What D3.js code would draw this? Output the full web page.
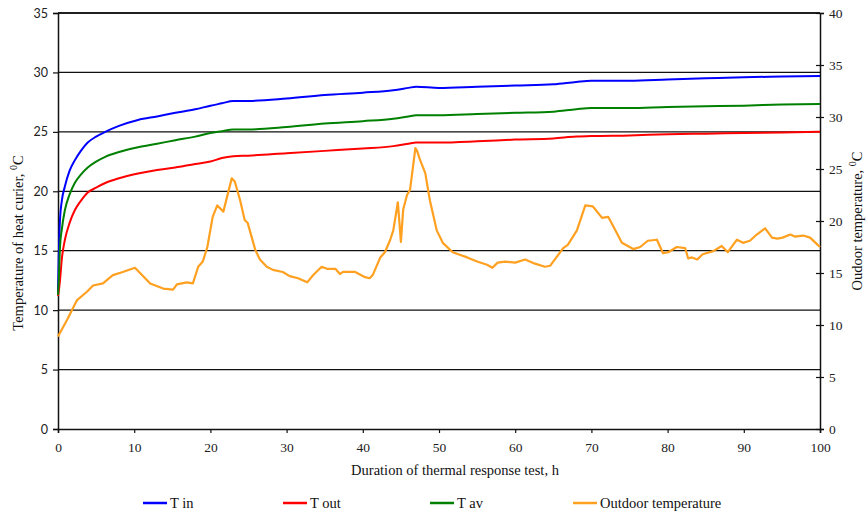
<!DOCTYPE html>
<html><head><meta charset="utf-8">
<script src="https://cdn.jsdelivr.net/npm/d3@7"></script>
<style>body{margin:0;background:#fff}svg{display:block}</style>
</head><body>
<svg id="c" width="866" height="517"></svg>
<script>
// ---- data ----
const tempHours = [0,0.1,0.26,0.5,0.9,1.5,2.2,3,3.9,5,6.2,8,10.5,13,15.4,18,20,21.5,23,25,30,35,40,44,46,47,50,55,60,65,68,70,75,80,85,90,95,100];
const tIn  = [11.5,14.5,17.6,19.2,20.4,21.7,22.6,23.4,24.1,24.6,25.0,25.5,26.0,26.3,26.6,26.9,27.2,27.4,27.6,27.6,27.8,28.1,28.3,28.5,28.7,28.8,28.7,28.8,28.9,29.0,29.2,29.3,29.3,29.4,29.5,29.6,29.65,29.7];
const tAv  = [11.3,12.5,15.3,16.8,18.4,19.7,20.7,21.4,22.0,22.5,22.9,23.3,23.7,24.0,24.3,24.6,24.9,25.05,25.2,25.2,25.4,25.7,25.9,26.1,26.3,26.4,26.4,26.5,26.6,26.7,26.9,27.0,27.0,27.1,27.15,27.2,27.3,27.35];
const tOut = [11.2,11.6,12.5,14.3,15.9,17.3,18.4,19.2,19.9,20.3,20.7,21.1,21.5,21.8,22.0,22.3,22.5,22.8,22.95,23.0,23.2,23.4,23.6,23.8,24.0,24.1,24.1,24.2,24.35,24.45,24.6,24.65,24.7,24.8,24.85,24.9,24.95,25.0];

const outHours = [0,1.2,2.5,3.8,4.6,5.9,7.2,8.5,10.1,12.1,13.8,15.1,15.6,16.9,17.7,18.4,19.0,19.6,20.3,20.9,21.7,22.8,23.2,23.9,24.5,24.9,25.9,26.5,27.4,28.2,29.5,30.4,31.5,32.7,33.5,34.6,35.3,36.4,37.0,37.4,39.0,40.3,40.9,41.3,42.3,42.9,43.6,44.0,44.6,45.0,45.3,45.8,46.2,46.9,47.1,47.5,48.2,48.8,49.7,50.5,51.8,53.7,55.0,56.3,57.0,57.7,58.7,60.0,61.3,62.6,63.9,64.6,66.3,66.9,68.1,69.2,70.2,71.4,72.2,72.8,74.0,75.5,76.4,77.4,78.6,79.4,80.1,81.2,82.3,82.7,83.2,83.9,84.6,86.0,87.1,87.9,89.1,89.9,90.8,91.7,92.8,93.7,94.4,95.1,96.1,96.7,97.8,98.7,99.7,100];
const outdoor = [8.9,10.5,12.4,13.2,13.8,14.0,14.8,15.1,15.5,14.0,13.5,13.4,13.9,14.1,14.0,15.6,16.1,17.5,20.4,21.5,20.9,24.1,23.8,22.0,20.1,19.8,17.2,16.3,15.6,15.3,15.1,14.7,14.5,14.1,14.8,15.6,15.4,15.4,14.9,15.1,15.1,14.6,14.5,14.8,16.5,17.0,18.2,19.1,21.8,18.0,21.1,22.5,23.0,27.0,26.8,25.9,24.6,22.0,19.1,17.9,17.0,16.5,16.1,15.8,15.5,16.0,16.1,16.0,16.3,15.9,15.6,15.7,17.4,17.7,19.1,21.5,21.4,20.3,20.4,19.6,17.9,17.3,17.5,18.1,18.2,16.9,17.0,17.5,17.4,16.4,16.5,16.3,16.8,17.1,17.6,17.0,18.2,17.9,18.1,18.7,19.3,18.4,18.3,18.4,18.7,18.5,18.6,18.4,17.7,17.5];

const xTicks = [0,10,20,30,40,50,60,70,80,90,100];
const leftTicks = [0,5,10,15,20,25,30,35];
const rightTicks = [0,5,10,15,20,25,30,35,40];
const seriesNames = ["T in","T out","T av","Outdoor temperature"];
const seriesColors = ["#0000ff","#ff0000","#008000","#ffa020"];

// ---- layout ----
const L=58, R=820, T=13, B=429;
const svg = d3.select("#c");
const x = d3.scaleLinear().domain([0,100]).range([L,R]);
const yL = d3.scaleLinear().domain([0,35]).range([B,T]);
const yR = d3.scaleLinear().domain([0,40]).range([B,T]);
const serif = "'Liberation Serif','Times New Roman',serif";
const sans = "Lato,'Open Sans',sans-serif";

// gridlines
svg.append("g").selectAll("line").data(leftTicks.filter(d=>d>0)).join("line")
  .attr("x1",L).attr("x2",R).attr("y1",d=>yL(d)).attr("y2",d=>yL(d))
  .attr("stroke","#111").attr("stroke-width",1.3);

// axes
const gx = svg.append("g").attr("transform",`translate(0,${B})`)
  .call(d3.axisBottom(x).tickValues(xTicks).tickSize(4).tickPadding(9).tickFormat(d3.format("d")));
const gl = svg.append("g").attr("transform",`translate(${L},0)`)
  .call(d3.axisLeft(yL).tickValues(leftTicks).tickSize(5).tickPadding(5).tickFormat(d3.format("d")));
const gr = svg.append("g").attr("transform",`translate(${R},0)`)
  .call(d3.axisRight(yR).tickValues(rightTicks).tickSize(4).tickPadding(5).tickFormat(d3.format("d")));
gr.selectAll(".tick line").attr("x1",-4);
[gx,gl,gr].forEach(g=>{
  g.select(".domain").attr("stroke","#111").attr("stroke-width",1.5);
  g.selectAll(".tick line").attr("stroke","#111").attr("stroke-width",1.2);
  g.selectAll("text").attr("fill","#222").style("font-size","13.5px");
});
gx.selectAll("text").style("font-family",serif);
gr.selectAll("text").style("font-family",serif);
gl.selectAll("text").style("font-family",sans).style("font-size","12.5px");

// line generators
const lineL = d3.line().curve(d3.curveMonotoneX).x(d=>x(d[0])).y(d=>yL(d[1]));
const lineR = d3.line().curve(d3.curveLinear).x(d=>x(d[0])).y(d=>yR(d[1]));
const zip = (a,b)=>a.map((v,i)=>[v,b[i]]);

const g = svg.append("g");
g.append("path").datum(zip(tempHours,tIn)).attr("d",lineL).attr("fill","none").attr("stroke",seriesColors[0]).attr("stroke-width",2);
g.append("path").datum(zip(tempHours,tOut)).attr("d",lineL).attr("fill","none").attr("stroke",seriesColors[1]).attr("stroke-width",2);
g.append("path").datum(zip(tempHours,tAv)).attr("d",lineL).attr("fill","none").attr("stroke",seriesColors[2]).attr("stroke-width",2);
g.append("path").datum(zip(outHours,outdoor)).attr("d",lineR).attr("fill","none").attr("stroke",seriesColors[3]).attr("stroke-width",2.2).attr("stroke-linejoin","round");

// top border
svg.append("line").attr("x1",L).attr("x2",R).attr("y1",yL(35)).attr("y2",yL(35)).attr("stroke","#111").attr("stroke-width",1.5);

// titles
svg.append("text").attr("x",455).attr("y",475).attr("text-anchor","middle")
  .style("font-family",serif).style("font-size","14.5px").attr("fill","#111")
  .text("Duration of thermal response test, h");

function rotTitle(cx, cy, main){
  const t = svg.append("text").attr("transform",`translate(${cx},${cy}) rotate(-90)`)
    .attr("text-anchor","middle").style("font-family",serif).style("font-size","14.5px").attr("fill","#111");
  t.append("tspan").text(main);
  t.append("tspan").attr("dy",-6).style("font-size","10px").text("0");
  t.append("tspan").attr("dy",6).text("C");
}
rotTitle(23, 243, "Temperature of heat curier, ");
rotTitle(862, 221, "Oudoor temperature, ");

// legend
const legX = [143,283,430,573];
const leg = svg.append("g").selectAll("g").data(seriesNames).join("g")
  .attr("transform",(d,i)=>`translate(${legX[i]},503)`);
leg.append("line").attr("x1",0).attr("x2",24).attr("y1",0).attr("y2",0)
  .attr("stroke",(d,i)=>seriesColors[i]).attr("stroke-width",2.5);
leg.append("text").attr("x",27).attr("y",5).style("font-family",serif).style("font-size","14.5px").attr("fill","#111").text(d=>d);
</script>
</body></html>
